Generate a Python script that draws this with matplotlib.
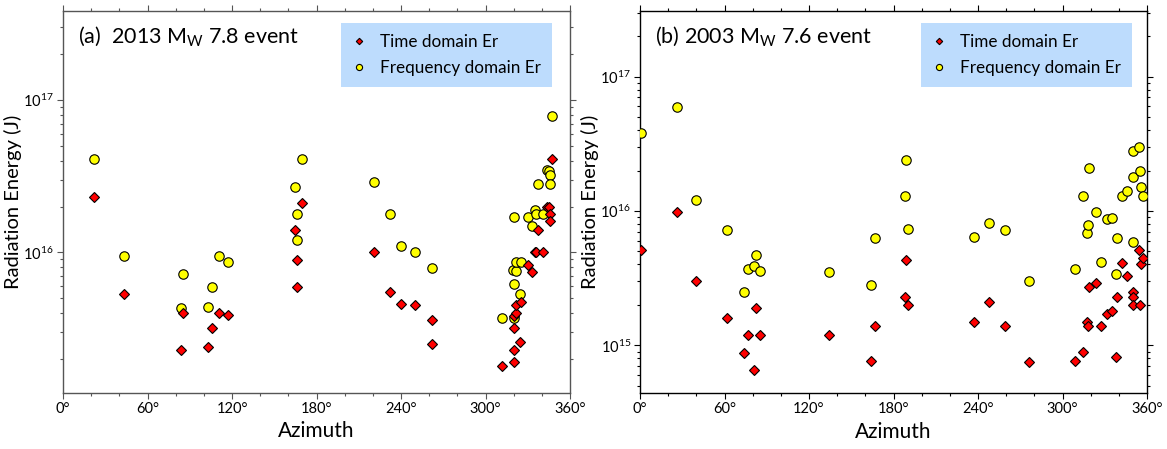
import numpy as np
import matplotlib
matplotlib.use('Agg')
import matplotlib.pyplot as plt
from matplotlib.ticker import MultipleLocator, FuncFormatter, LogLocator

plt.rcParams['font.family'] = ['Lato', 'DejaVu Sans']
plt.rcParams['mathtext.fontset'] = 'custom'
plt.rcParams['mathtext.rm'] = 'Lato'

# (a) 2013 Mw 7.8 event
az_a = [22, 43, 85, 84, 103, 106, 111, 117, 165, 170, 166, 166, 221, 232, 240, 250, 262,
        312, 320, 320.5, 320.5, 319.5, 321.5, 322, 324.5, 325.5, 330.5, 333, 335, 336, 337,
        341, 344, 345, 345.5, 345.5, 347]
freq_a = [4.1e16, 9.5e15, 7.2e15, 4.3e15, 4.4e15, 5.9e15, 9.4e15, 8.6e15, 2.7e16, 4.1e16,
          1.8e16, 1.2e16, 2.9e16, 1.8e16, 1.1e16, 1.0e16, 7.9e15,
          3.7e15, 3.7e15, 1.7e16, 6.2e15, 7.7e15, 7.6e15, 8.6e15, 5.3e15, 8.7e15, 1.7e16,
          1.5e16, 1.9e16, 1.8e16, 2.8e16, 1.8e16, 3.5e16, 3.4e16, 3.2e16, 2.8e16, 7.8e16]
az_a_t = [22, 43, 85, 84, 103, 106, 111, 117, 165, 170, 166, 166, 221, 232, 240, 250, 262, 262,
          312, 320, 320, 320.5, 320.5, 321.5, 322, 324.5, 325.5, 330, 333, 335, 336, 337,
          341, 344, 345, 345.5, 345.5, 347]
time_a = [2.3e16, 5.3e15, 4.0e15, 2.3e15, 2.4e15, 3.2e15, 4.0e15, 3.9e15, 1.4e16, 2.1e16,
          8.9e15, 5.9e15, 1.0e16, 5.5e15, 4.6e15, 4.5e15, 3.6e15, 2.5e15,
          1.8e15, 1.9e15, 2.3e15, 3.2e15, 3.8e15, 4.0e15, 4.5e15, 2.6e15, 4.7e15, 8.3e15,
          7.4e15, 1.0e16, 1.0e16, 1.4e16, 1.0e16, 2.0e16, 2.0e16, 1.8e16, 1.6e16, 4.1e16]

# (b) 2003 Mw 7.6 event
az_b = [1, 26, 40, 62, 74, 76.5, 81, 82.5, 85.5, 134, 164, 167, 188, 189, 190, 237, 247.5,
        259.5, 276, 309, 314.5, 317.5, 318, 318.5, 323.5, 327, 331.5, 335.5, 338, 338.5,
        342, 345.5, 350, 350, 350, 354, 355, 356, 357.5]
freq_b = [3.8e16, 5.9e16, 1.2e16, 7.2e15, 2.5e15, 3.7e15, 3.9e15, 4.7e15, 3.6e15, 3.5e15,
          2.8e15, 6.3e15, 1.3e16, 2.4e16, 7.3e15, 6.4e15, 8.2e15, 7.2e15, 3.0e15,
          3.7e15, 1.3e16, 6.9e15, 7.9e15, 2.1e16, 9.8e15, 4.2e15, 8.7e15, 8.9e15, 3.4e15,
          6.3e15, 1.3e16, 1.4e16, 1.8e16, 5.9e15, 2.8e16, 3.0e16, 2.0e16, 1.5e16, 1.3e16]
az_b_t = [1, 26, 40, 62, 74, 76.5, 82.5, 81, 85.5, 134, 164, 167, 188, 189, 190, 237, 247.5,
          259.5, 276, 309, 314.5, 317.5, 318, 318.5, 323.5, 327, 331.5, 335.5, 338, 338.5,
          342, 345.5, 350, 350, 350, 354, 355, 356, 357.5]
time_b = [5.1e15, 9.8e15, 3.0e15, 1.6e15, 8.8e14, 1.2e15, 1.9e15, 6.6e14, 1.2e15, 1.2e15,
          7.6e14, 1.4e15, 2.3e15, 4.3e15, 2.0e15, 1.5e15, 2.1e15, 1.4e15, 7.5e14,
          7.6e14, 9.0e14, 1.5e15, 1.4e15, 2.7e15, 2.9e15, 1.4e15, 1.7e15, 1.8e15, 8.2e14,
          2.3e15, 4.1e15, 3.3e15, 2.5e15, 2.3e15, 2.0e15, 5.1e15, 2.0e15, 4.0e15, 4.5e15]

panels = [
    dict(az_f=az_a, f=freq_a, az_t=az_a_t, t=time_a, ylim=(1.2e15, 3.84e17),
         title='(a)  2013 M$_\\mathregular{W}$ 7.8 event', spine='#555555',
         pos=[63/1167, 1 - 392.7/449, 507/1167, 381.7/449], leg_x=0.548),
    dict(az_f=az_b, f=freq_b, az_t=az_b_t, t=time_b, ylim=(4.4e14, 3.08e17),
         title='(b) 2003 M$_\\mathregular{W}$ 7.6 event', spine='black',
         pos=[640/1167, 1 - 393.3/449, 507/1167, 382.3/449], leg_x=0.554),
]

fig = plt.figure(figsize=(11.67, 4.49), dpi=100)

for p in panels:
    ax = fig.add_axes(p['pos'])
    ax.set_yscale('log')
    ax.plot(p['az_f'], p['f'], 'o', ms=6.8, mfc='#ffff00', mec='black', mew=0.8,
            label='Frequency domain Er', zorder=3)
    ax.plot(p['az_t'], p['t'], 'D', ms=5.0, mfc='#ff0000', mec='black', mew=0.8,
            label='Time domain Er', zorder=4)
    ax.set_xlim(0, 360)
    ax.set_ylim(*p['ylim'])
    ax.xaxis.set_major_locator(MultipleLocator(60))
    ax.xaxis.set_minor_locator(MultipleLocator(20))
    ax.xaxis.set_major_formatter(FuncFormatter(lambda v, pos: f'{v:.0f}°'))
    ax.yaxis.set_minor_locator(LogLocator(base=10, subs=np.arange(2, 10)))
    ax.tick_params(which='both', direction='out', top=True, right=True,
                   labelsize=10.5, colors=p['spine'], labelcolor='black', width=0.8)
    ax.tick_params(which='major', length=4, pad=2.5)
    ax.tick_params(which='minor', length=2)
    for s in ax.spines.values():
        s.set_color(p['spine'])
        s.set_linewidth(1.0)
    ax.set_xlabel('Azimuth', fontsize=15, labelpad=4)
    ax.set_ylabel('Radiation Energy (J)', fontsize=14.5, labelpad=1)
    ax.text(0.03, 0.916, p['title'], transform=ax.transAxes, fontsize=15.5, va='baseline')
    h, l = ax.get_legend_handles_labels()
    leg = ax.legend(h[::-1], l[::-1], loc='upper left', bbox_to_anchor=(p['leg_x'], 0.969),
                    borderaxespad=0, fontsize=12.3, markerscale=0.65, frameon=True,
                    fancybox=False, framealpha=1, facecolor='#bddcfd', edgecolor='none',
                    borderpad=0.65, labelspacing=0.6, handlelength=0.8, handletextpad=0.85)
    leg.get_frame().set_linewidth(0)

fig.savefig('out.png', dpi=100)
